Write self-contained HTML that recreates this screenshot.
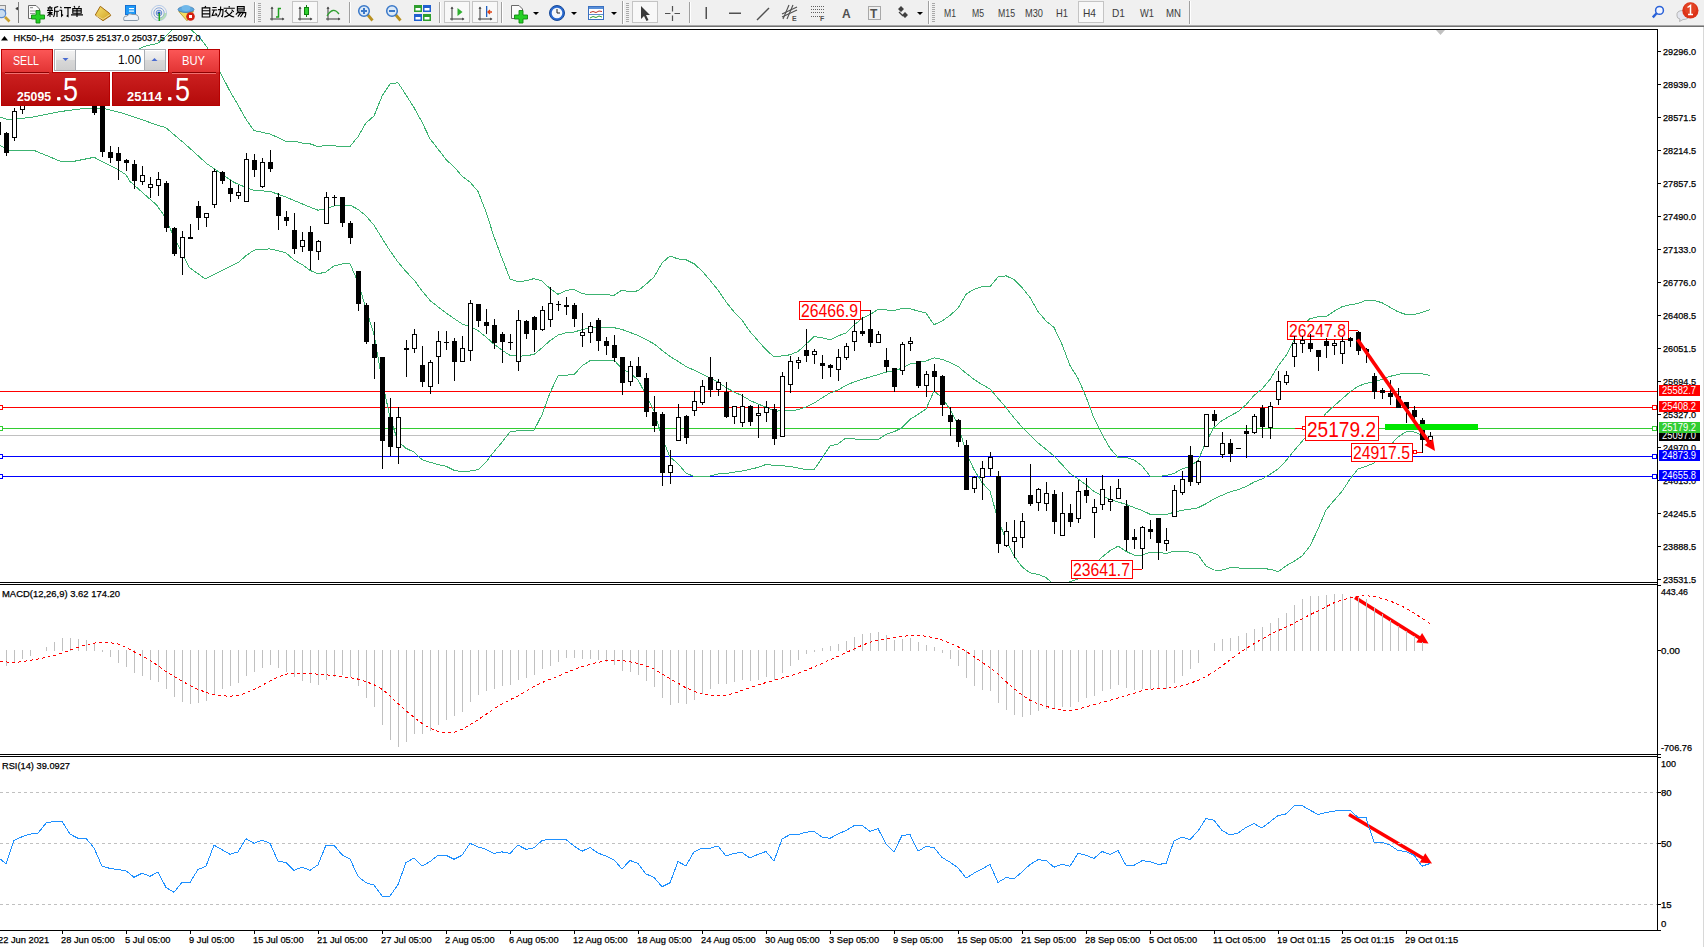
<!DOCTYPE html>
<html><head><meta charset="utf-8"><style>
html,body{margin:0;padding:0;}
body{width:1704px;height:947px;overflow:hidden;position:relative;background:#fff;font-family:"Liberation Sans",sans-serif;}
</style></head><body>
<div style="position:absolute;left:0;top:0;width:1704px;height:25px;background:#f0f0f0"></div>
<svg width="1704" height="25" viewBox="0 0 1704 25" style="position:absolute;left:0;top:0"><rect x="-4.5" y="5.5" width="10" height="8" fill="#e8e8e8" stroke="#909090"/><circle cx="1.5" cy="13.5" r="4.2" fill="#c8dcf0" stroke="#5a8ad0" stroke-width="1.2"/><line x1="5" y1="17" x2="9.5" y2="21.5" stroke="#c8a030" stroke-width="2.6"/><rect x="18" y="2" width="1" height="21" fill="#808080"/><polygon points="17.5,7.5 15.8,8.6 17.5,9.7" fill="none" stroke="#000" stroke-width="0.8"/><path d="M28.5,5.5 H36 L39.5,9 V18.5 H28.5 Z" fill="#fbfbfb" stroke="#6a6a6a"/><g fill="#9a9a9a"><rect x="30" y="7" width="3" height="1.2"/><rect x="30" y="10.5" width="6" height="1"/><rect x="30" y="13" width="5" height="1"/></g><path d="M36,10.5 H40 V15 H44.5 V19 H40 V23 H36 V19 H31.5 V15 H36 Z" fill="#25d025" stroke="#118811" stroke-width="0.9"/><path transform="translate(47,6)" d="M3,0 V1.2 M0.5,1.8 H5.5 M1.5,2.6 L2,3.6 M4.5,2.6 L4,3.6 M0,4.3 H6 M3,4.3 V11 M0.5,6.6 H5.5 M3,7 L0.5,10 M3,7 L5.5,9 M11.2,0.5 L7.6,1.6 M7.6,1.6 V6 Q7.6,9 6.5,11 M7.6,5.2 H12 M10,5.2 V11" fill="none" stroke="#000" stroke-width="1.15"/><path transform="translate(59,6)" d="M1.3,0.8 L2.5,2.2 M0.3,4.2 H2.6 V10 L4,8.6 M5,1.6 H12 M9,1.6 V10.6 L7.6,9.8" fill="none" stroke="#000" stroke-width="1.15"/><path transform="translate(71,6)" d="M3,0 L4,1.6 M8.5,0 L7.5,1.6 M1.8,2.6 H10.2 V7.2 H1.8 Z M1.8,4.9 H10.2 M6,2.6 V11 M0,8.8 H12" fill="none" stroke="#000" stroke-width="1.15"/><defs><linearGradient id="gBook" x1="0" y1="0" x2="1" y2="1"><stop offset="0" stop-color="#f6e070"/><stop offset="1" stop-color="#d0a020"/></linearGradient></defs><path d="M95.3,15 L100.3,6.3 L109.4,13.3 L110.7,15.6 L103,20.7 Z" fill="url(#gBook)" stroke="#a06810" stroke-width="1"/><path d="M96.5,15.8 L103,19.2 L110,14.5" fill="none" stroke="#f4e0a0" stroke-width="0.8"/><rect x="125.5" y="5.5" width="10" height="9" fill="#1e9af8" stroke="#1870d0"/><rect x="129" y="8" width="5" height="1.2" fill="#fff"/><rect x="129" y="10.5" width="5" height="1.2" fill="#fff"/><path d="M124,20.5 Q122.5,16 127,16 Q129,12.5 133,14.5 Q138.5,14 138.5,18 Q139.5,20.5 136,20.5 Z" fill="#eef2f7" stroke="#8898a8"/><g fill="none" stroke-width="1"><circle cx="159" cy="13" r="7.6" stroke="#b8cce8"/><circle cx="159" cy="13" r="5.2" stroke="#8aa8dc"/><circle cx="159" cy="13" r="2.8" stroke="#6088d0"/></g><path d="M159,20.6 A7.6,7.6 0 0 0 166.6,13 L164.2,13 A5.2,5.2 0 0 1 159,18.2 Z" fill="#a8d8a8" opacity="0.8"/><circle cx="159" cy="13" r="1.6" fill="#2050c0"/><path d="M159.3,13 V21" fill="none" stroke="#20a020" stroke-width="1.5"/><path d="M178.8,11.5 L193.5,11.5 L187,20.8 Z" fill="#f4dc60" stroke="#b09020" stroke-width="0.8"/><ellipse cx="186" cy="9.5" rx="8" ry="3" fill="#5aa8e0" stroke="#3a78b0" stroke-width="0.8"/><ellipse cx="186" cy="8" rx="4.5" ry="3" fill="#70b8ea"/><circle cx="190.5" cy="16.5" r="4.3" fill="#d42010"/><rect x="189" y="15" width="3" height="3" fill="#fff"/><path transform="translate(200.0,6)" d="M5.8,0 L4.8,1.6 M2.2,1.8 H9.8 V11 H2.2 Z M2.2,4.7 H9.8 M2.2,7.8 H9.8" fill="none" stroke="#000" stroke-width="1.15"/><path transform="translate(211.6,6)" d="M0.8,1.5 H5 M0.2,4 H5.6 M2.6,4 L0.6,9.5 L5.4,8.8 M4,7 L5.6,9.6 M6.4,3.6 H11.4 Q11.4,9 10.6,10.6 L9.6,10 M9,0.4 V4 Q8.6,8.5 6,11" fill="none" stroke="#000" stroke-width="1.15"/><path transform="translate(223.2,6)" d="M6,0 V1.6 M0.4,2.2 H11.6 M3.6,3.6 L1.6,5.8 M8.4,3.6 L10.6,5.8 M3,5.6 Q6,10 11,11 M9,5.6 Q6,10 1,11" fill="none" stroke="#000" stroke-width="1.15"/><path transform="translate(234.8,6)" d="M2.6,0.6 H9.4 V5 H2.6 Z M2.6,2.8 H9.4 M3.6,5.6 L1,8.6 M3,6.6 H11 Q11,10 10.2,11 L9.4,10.6 M6,6.6 L3,10.6 M8.6,6.6 L5.6,11" fill="none" stroke="#000" stroke-width="1.15"/><rect x="254" y="2" width="1" height="21" fill="#a0a0a0"/><rect x="255" y="2" width="1" height="21" fill="#ffffff"/><rect x="258" y="3" width="3" height="1" fill="#a8a8a8"/><rect x="258" y="5" width="3" height="1" fill="#a8a8a8"/><rect x="258" y="7" width="3" height="1" fill="#a8a8a8"/><rect x="258" y="9" width="3" height="1" fill="#a8a8a8"/><rect x="258" y="11" width="3" height="1" fill="#a8a8a8"/><rect x="258" y="13" width="3" height="1" fill="#a8a8a8"/><rect x="258" y="15" width="3" height="1" fill="#a8a8a8"/><rect x="258" y="17" width="3" height="1" fill="#a8a8a8"/><rect x="258" y="19" width="3" height="1" fill="#a8a8a8"/><rect x="258" y="21" width="3" height="1" fill="#a8a8a8"/><g stroke="#4a4a4a" stroke-width="1.1" fill="none"><path d="M272,20.5 V7"/><path d="M270,19 H284"/></g><polygon points="270.5,9 273.5,9 272,6.5" fill="#505050"/><polygon points="282,17.5 282,20.5 284.5,19" fill="#505050"/><path d="M276,17 H278.5 V8.5 H281" fill="none" stroke="#20a020" stroke-width="1.5"/><rect x="292.5" y="1.5" width="25" height="21" fill="#f8f8f8" stroke="#c4c4c4" stroke-width="1"/><g stroke="#4a4a4a" stroke-width="1.1" fill="none"><path d="M300,20.5 V7"/><path d="M298,19 H312"/></g><polygon points="298.5,9 301.5,9 300,6.5" fill="#505050"/><polygon points="310,17.5 310,20.5 312.5,19" fill="#505050"/><rect x="306" y="5" width="1" height="12" fill="#108010"/><rect x="304.5" y="7.5" width="4" height="7" fill="#30d030" stroke="#108010"/><g stroke="#4a4a4a" stroke-width="1.1" fill="none"><path d="M328,20.5 V7"/><path d="M326,19 H340"/></g><polygon points="326.5,9 329.5,9 328,6.5" fill="#505050"/><polygon points="338,17.5 338,20.5 340.5,19" fill="#505050"/><path d="M327,16 Q333,6 339,14" fill="none" stroke="#30a030" stroke-width="1.3"/><rect x="349" y="2" width="1" height="21" fill="#a0a0a0"/><rect x="350" y="2" width="1" height="21" fill="#ffffff"/><line x1="367.5" y1="14.5" x2="372.5" y2="20.5" stroke="#b89020" stroke-width="2.8"/><circle cx="364" cy="11" r="5.3" fill="#dceaf8" stroke="#3a78c8" stroke-width="1.5"/><rect x="361" y="10" width="6" height="2" fill="#3a78c8"/><rect x="363" y="8" width="2" height="6" fill="#3a78c8"/><line x1="395.5" y1="14.5" x2="400.5" y2="20.5" stroke="#b89020" stroke-width="2.8"/><circle cx="392" cy="11" r="5.3" fill="#dceaf8" stroke="#3a78c8" stroke-width="1.5"/><rect x="389" y="10" width="6" height="2" fill="#3a78c8"/><rect x="414" y="5" width="8" height="7" fill="#2e9e2e"/><rect x="415.5" y="8" width="5" height="2.5" fill="#fff"/><rect x="423" y="5" width="8" height="7" fill="#2060d0"/><rect x="424.5" y="8" width="5" height="2.5" fill="#fff"/><rect x="414" y="14" width="8" height="7" fill="#2060d0"/><rect x="415.5" y="17" width="5" height="2.5" fill="#fff"/><rect x="423" y="14" width="8" height="7" fill="#2e9e2e"/><rect x="424.5" y="17" width="5" height="2.5" fill="#fff"/><rect x="439" y="2" width="1" height="21" fill="#a0a0a0"/><rect x="440" y="2" width="1" height="21" fill="#ffffff"/><rect x="444.5" y="1.5" width="25" height="21" fill="#f8f8f8" stroke="#c4c4c4" stroke-width="1"/><g stroke="#4a4a4a" stroke-width="1.1" fill="none"><path d="M452,20.5 V7"/><path d="M450,19 H464"/></g><polygon points="450.5,9 453.5,9 452,6.5" fill="#505050"/><polygon points="462,17.5 462,20.5 464.5,19" fill="#505050"/><polygon points="457.5,8 457.5,16 462.5,12" fill="#30b030"/><rect x="472.5" y="1.5" width="25" height="21" fill="#f8f8f8" stroke="#c4c4c4" stroke-width="1"/><g stroke="#4a4a4a" stroke-width="1.1" fill="none"><path d="M480,20.5 V7"/><path d="M478,19 H492"/></g><polygon points="478.5,9 481.5,9 480,6.5" fill="#505050"/><polygon points="490,17.5 490,20.5 492.5,19" fill="#505050"/><rect x="486" y="6" width="1.3" height="11" fill="#2060c0"/><path d="M492,12 H488 M490,10 L488,12 L490,14" fill="none" stroke="#e04010" stroke-width="1.3"/><rect x="501" y="2" width="1" height="21" fill="#a0a0a0"/><rect x="502" y="2" width="1" height="21" fill="#ffffff"/><path d="M511.5,5.5 H519 L522.5,9 V18.5 H511.5 Z" fill="#fbfbfb" stroke="#6a6a6a"/><path d="M519,10.5 H523 V15 H527.5 V19 H523 V23 H519 V19 H514.5 V15 H519 Z" fill="#25d025" stroke="#118811" stroke-width="0.9"/><polygon points="533,12 539,12 536,15" fill="#000"/><circle cx="557" cy="13" r="7.5" fill="#2a6ad0" stroke="#184a98"/><circle cx="557" cy="13" r="5.3" fill="#f4f8fc"/><path d="M557,9 V13 H560" fill="none" stroke="#202020" stroke-width="1"/><polygon points="571,12 577,12 574,15" fill="#000"/><rect x="588.5" y="6.5" width="15" height="13" fill="#fff" stroke="#3a70c0"/><rect x="589" y="7" width="14" height="2" fill="#5a90d8"/><path d="M590,12.5 L593,11.5 L596,12.5 L599,11 L602,11.5" fill="none" stroke="#c03020" stroke-width="1"/><rect x="589" y="14" width="14" height="0.8" fill="#3a70c0"/><path d="M590,18 L593,16.5 L596,17.5 L599,16 L602,17" fill="none" stroke="#30a030" stroke-width="1"/><polygon points="611,12 617,12 614,15" fill="#000"/><rect x="622" y="1" width="1" height="23" fill="#a0a0a0"/><rect x="623" y="1" width="1" height="23" fill="#fff"/><rect x="626" y="3" width="3" height="1" fill="#a8a8a8"/><rect x="626" y="5" width="3" height="1" fill="#a8a8a8"/><rect x="626" y="7" width="3" height="1" fill="#a8a8a8"/><rect x="626" y="9" width="3" height="1" fill="#a8a8a8"/><rect x="626" y="11" width="3" height="1" fill="#a8a8a8"/><rect x="626" y="13" width="3" height="1" fill="#a8a8a8"/><rect x="626" y="15" width="3" height="1" fill="#a8a8a8"/><rect x="626" y="17" width="3" height="1" fill="#a8a8a8"/><rect x="626" y="19" width="3" height="1" fill="#a8a8a8"/><rect x="626" y="21" width="3" height="1" fill="#a8a8a8"/><rect x="632.5" y="1.5" width="25" height="21" fill="#f8f8f8" stroke="#c4c4c4" stroke-width="1"/><polygon points="641,6 641,19 644,16 646.5,21 648.5,20 646,15 650,15" fill="#3a3a3a"/><path d="M665,13.5 H670.5 M674.5,13.5 H680 M672.5,6 V11.5 M672.5,15.5 V21" stroke="#505050" stroke-width="1.2"/><rect x="689" y="2" width="1" height="21" fill="#a0a0a0"/><rect x="690" y="2" width="1" height="21" fill="#ffffff"/><rect x="705.5" y="7" width="1.5" height="12" fill="#505050"/><rect x="729" y="12.5" width="12" height="1.5" fill="#505050"/><line x1="757" y1="20" x2="769" y2="8" stroke="#505050" stroke-width="1.4"/><g stroke="#505050" stroke-width="1.1"><line x1="782" y1="14" x2="797" y2="7"/><line x1="782" y1="17" x2="797" y2="10"/><line x1="783" y1="19" x2="789" y2="5"/><line x1="787" y1="19" x2="793" y2="5"/></g><text x="792" y="21" font-family="Liberation Sans, sans-serif" font-size="7" font-weight="bold" fill="#505050">E</text><g stroke="#606060" stroke-width="1" stroke-dasharray="1 1"><line x1="811" y1="6.5" x2="824" y2="6.5"/><line x1="811" y1="9.5" x2="824" y2="9.5"/><line x1="811" y1="12.5" x2="824" y2="12.5"/><line x1="811" y1="16.5" x2="821" y2="16.5"/></g><text x="820" y="21" font-family="Liberation Sans, sans-serif" font-size="7" font-weight="bold" fill="#505050">F</text><text x="842" y="18" font-family="Liberation Sans, sans-serif" font-size="12" font-weight="bold" fill="#505050">A</text><rect x="868.5" y="6.5" width="12" height="13" fill="none" stroke="#606060" stroke-dasharray="1 1"/><text x="870" y="18" font-family="Liberation Sans, sans-serif" font-size="12" font-weight="bold" fill="#505050">T</text><path d="M898,9 L901,6 L904,9 L901,12 Z M902,15 L905,12 L908,15 L905,18 Z" fill="#404040"/><path d="M899,12 L903,16" stroke="#404040" stroke-width="1.3"/><polygon points="917,12 923,12 920,15" fill="#000"/><rect x="928" y="1" width="1" height="23" fill="#a0a0a0"/><rect x="929" y="1" width="1" height="23" fill="#fff"/><rect x="932" y="3" width="3" height="1" fill="#a8a8a8"/><rect x="932" y="5" width="3" height="1" fill="#a8a8a8"/><rect x="932" y="7" width="3" height="1" fill="#a8a8a8"/><rect x="932" y="9" width="3" height="1" fill="#a8a8a8"/><rect x="932" y="11" width="3" height="1" fill="#a8a8a8"/><rect x="932" y="13" width="3" height="1" fill="#a8a8a8"/><rect x="932" y="15" width="3" height="1" fill="#a8a8a8"/><rect x="932" y="17" width="3" height="1" fill="#a8a8a8"/><rect x="932" y="19" width="3" height="1" fill="#a8a8a8"/><rect x="932" y="21" width="3" height="1" fill="#a8a8a8"/><rect x="1078.5" y="1.5" width="25" height="21" fill="#f8f8f8" stroke="#c4c4c4" stroke-width="1"/><text x="944" y="17" font-family="Liberation Sans, sans-serif" font-size="10.5" fill="#3c3c3c" textLength="12" lengthAdjust="spacingAndGlyphs">M1</text><text x="972" y="17" font-family="Liberation Sans, sans-serif" font-size="10.5" fill="#3c3c3c" textLength="12" lengthAdjust="spacingAndGlyphs">M5</text><text x="998" y="17" font-family="Liberation Sans, sans-serif" font-size="10.5" fill="#3c3c3c" textLength="17" lengthAdjust="spacingAndGlyphs">M15</text><text x="1025" y="17" font-family="Liberation Sans, sans-serif" font-size="10.5" fill="#3c3c3c" textLength="18" lengthAdjust="spacingAndGlyphs">M30</text><text x="1056" y="17" font-family="Liberation Sans, sans-serif" font-size="10.5" fill="#3c3c3c" textLength="12" lengthAdjust="spacingAndGlyphs">H1</text><text x="1083" y="17" font-family="Liberation Sans, sans-serif" font-size="10.5" fill="#3c3c3c" textLength="13" lengthAdjust="spacingAndGlyphs">H4</text><text x="1112" y="17" font-family="Liberation Sans, sans-serif" font-size="10.5" fill="#3c3c3c" textLength="13" lengthAdjust="spacingAndGlyphs">D1</text><text x="1140" y="17" font-family="Liberation Sans, sans-serif" font-size="10.5" fill="#3c3c3c" textLength="14" lengthAdjust="spacingAndGlyphs">W1</text><text x="1166" y="17" font-family="Liberation Sans, sans-serif" font-size="10.5" fill="#3c3c3c" textLength="15" lengthAdjust="spacingAndGlyphs">MN</text><rect x="1189" y="1" width="1" height="23" fill="#a0a0a0"/><rect x="1190" y="1" width="1" height="23" fill="#fff"/><circle cx="1659.5" cy="10.4" r="3.9" fill="#f4f6ff" stroke="#2a62d8" stroke-width="1.5"/><line x1="1656.6" y1="13.3" x2="1652.8" y2="17.4" stroke="#2a62d8" stroke-width="2.4"/><path d="M1677,16 Q1676,10.5 1683,10.5 Q1689,10.5 1689,15.5 Q1689,19.5 1683,19.5 L1679.5,21.5 L1680,19 Q1677,18.5 1677,16 Z" fill="#e4e6ee" stroke="#a8a8a8" stroke-width="0.8"/><circle cx="1690.4" cy="10.4" r="8.1" fill="#dc3218"/><circle cx="1690.4" cy="8.5" r="6" fill="#e8522e" opacity="0.5"/><path d="M1687.5,7.5 L1690.5,5.5 V14.5 M1688,14.5 H1693" fill="none" stroke="#fff" stroke-width="1.5"/></svg>
<div style="position:absolute;left:0;top:25px;width:1704px;height:1px;background:#a8a8a8"></div>
<div style="position:absolute;left:0;top:26px;width:1704px;height:1px;background:#707070"></div>
<div style="position:absolute;left:1703px;top:27px;width:1px;height:920px;background:#d8d8d8"></div>
<svg width="1704" height="947" viewBox="0 0 1704 947" style="position:absolute;left:0;top:0"><defs><clipPath id="cm"><rect x="0" y="30" width="1657" height="552"/></clipPath><clipPath id="cmacd"><rect x="0" y="585" width="1657" height="169"/></clipPath><clipPath id="crsi"><rect x="0" y="757" width="1657" height="173"/></clipPath></defs><rect x="0" y="391" width="1657" height="1" fill="#ff0000"/><rect x="0" y="407" width="1657" height="1" fill="#ff0000"/><rect x="0" y="428" width="1657" height="1" fill="#32cd32"/><rect x="0" y="435" width="1657" height="1" fill="#c0c0c0"/><rect x="0" y="456" width="1657" height="1" fill="#0000ff"/><rect x="0" y="476" width="1657" height="1" fill="#0000ff"/><g clip-path="url(#cm)" fill="none" stroke="#3cb371" stroke-width="1" shape-rendering="crispEdges"><polyline points="120.0,60.0 143.7,46.4 157.7,43.5 166.0,36.0 174.0,28.0 189.5,28.0 200.0,38.0 206.5,46.4 214.0,60.0 222.0,75.8 230.0,91.3 238.0,105.0 246.0,119.3 254.0,130.6 262.0,132.3 270.0,134.0 278.0,137.6 286.0,141.3 294.0,141.0 302.0,143.0 310.0,143.8 318.0,146.6 326.0,145.3 334.0,145.9 342.0,146.3 350.0,146.4 358.0,136.7 366.0,122.9 374.0,116.0 382.0,96.2 390.0,84.0 398.0,82.7 406.0,94.9 414.0,107.6 422.0,122.1 430.0,138.8 438.0,149.0 446.0,159.6 454.0,166.8 462.0,176.0 470.0,182.1 478.0,191.4 486.0,211.9 494.0,236.8 502.0,258.2 510.0,278.9 518.0,281.6 526.0,280.8 534.0,278.6 542.0,281.0 550.0,288.6 558.0,294.3 566.0,290.5 574.0,289.3 582.0,293.4 590.0,294.8 598.0,294.8 606.0,294.7 614.0,295.3 622.0,289.9 630.0,291.9 638.0,290.8 646.0,284.3 654.0,276.9 662.0,263.0 670.0,255.9 678.0,258.9 686.0,259.7 694.0,263.7 702.0,270.9 710.0,280.3 718.0,290.0 726.0,301.8 734.0,311.9 742.0,320.2 750.0,331.6 758.0,340.7 766.0,349.7 774.0,357.0 782.0,355.9 790.0,354.8 798.0,351.5 806.0,344.2 814.0,336.7 822.0,337.6 830.0,340.0 838.0,336.0 846.0,332.9 854.0,324.9 862.0,318.7 870.0,314.5 878.0,309.5 886.0,309.9 894.0,310.5 902.0,308.5 910.0,308.7 918.0,311.0 926.0,313.1 934.0,324.7 942.0,321.1 950.0,315.4 958.0,308.2 966.0,294.3 974.0,289.2 982.0,286.7 990.0,286.6 998.0,277.0 1006.0,275.8 1014.0,279.6 1022.0,287.6 1030.0,297.5 1038.0,311.5 1046.0,321.0 1054.0,327.4 1062.0,344.4 1070.0,365.5 1078.0,378.4 1086.0,396.7 1094.0,418.3 1102.0,434.2 1110.0,448.3 1118.0,457.6 1126.0,457.5 1134.0,460.0 1142.0,465.8 1150.0,476.2 1158.0,476.3 1166.0,475.7 1174.0,473.4 1182.0,469.0 1190.0,466.2 1198.0,460.7 1206.0,441.7 1214.0,427.6 1222.0,420.5 1230.0,416.0 1238.0,411.6 1246.0,404.8 1254.0,395.4 1262.0,389.1 1270.0,379.5 1278.0,366.2 1286.0,355.6 1294.0,340.4 1302.0,326.8 1310.0,318.7 1318.0,316.8 1326.0,316.6 1334.0,311.3 1342.0,306.7 1350.0,304.7 1358.0,303.6 1366.0,300.2 1374.0,300.5 1382.0,302.7 1390.0,307.3 1398.0,311.8 1406.0,314.5 1414.0,314.4 1422.0,312.4 1430.0,309.6"/><polyline points="0.0,117.2 8.1,119.6 29.7,117.6 60.7,111.5 86.4,108.2 105.3,108.8 121.5,112.9 140.0,118.9 155.2,124.4 165.9,127.7 180.3,140.0 184.3,143.3 206.9,163.7 218.7,171.8 233.5,182.1 246.0,187.5 254.0,190.4 262.0,190.9 270.0,191.4 278.0,194.2 286.0,197.1 294.0,200.5 302.0,203.8 310.0,207.1 318.0,210.2 326.0,208.7 334.0,205.9 342.0,205.2 350.0,205.1 358.0,209.4 366.0,215.8 374.0,225.2 382.0,238.2 390.0,250.8 398.0,262.1 406.0,271.6 414.0,279.9 422.0,290.8 430.0,300.5 438.0,306.8 446.0,312.9 454.0,318.5 462.0,323.9 470.0,326.6 478.0,330.5 486.0,337.0 494.0,344.2 502.0,350.2 510.0,355.4 518.0,356.2 526.0,355.8 534.0,354.4 542.0,347.9 550.0,340.7 558.0,335.1 566.0,332.8 574.0,332.1 582.0,329.6 590.0,327.8 598.0,327.7 606.0,327.9 614.0,327.7 622.0,329.4 630.0,332.5 638.0,335.3 646.0,339.6 654.0,343.8 662.0,350.3 670.0,356.5 678.0,361.3 686.0,366.5 694.0,370.1 702.0,373.9 710.0,378.2 718.0,382.0 726.0,387.6 734.0,392.0 742.0,395.6 750.0,400.4 758.0,404.1 766.0,407.1 774.0,411.2 782.0,410.8 790.0,410.6 798.0,409.8 806.0,406.9 814.0,403.2 822.0,397.9 830.0,393.0 838.0,390.0 846.0,385.4 854.0,381.9 862.0,379.3 870.0,377.0 878.0,374.6 886.0,372.1 894.0,371.1 902.0,368.1 910.0,364.0 918.0,362.7 926.0,361.0 934.0,357.9 942.0,359.3 950.0,362.4 958.0,366.4 966.0,373.1 974.0,379.4 982.0,384.5 990.0,389.0 998.0,398.3 1006.0,407.6 1014.0,417.8 1022.0,427.1 1030.0,435.2 1038.0,442.9 1046.0,449.3 1054.0,456.0 1062.0,464.5 1070.0,473.5 1078.0,478.8 1086.0,484.9 1094.0,491.4 1102.0,495.7 1110.0,499.5 1118.0,501.9 1126.0,504.4 1134.0,507.5 1142.0,510.5 1150.0,514.2 1158.0,514.2 1166.0,514.6 1174.0,512.3 1182.0,510.2 1190.0,509.2 1198.0,507.8 1206.0,503.8 1214.0,498.8 1222.0,495.3 1230.0,491.9 1238.0,489.7 1246.0,486.6 1254.0,482.1 1262.0,479.0 1270.0,474.3 1278.0,469.0 1286.0,460.7 1294.0,450.8 1302.0,441.4 1310.0,432.3 1318.0,423.0 1326.0,413.3 1334.0,405.9 1342.0,399.0 1350.0,391.9 1358.0,386.4 1366.0,383.3 1374.0,381.8 1382.0,379.3 1390.0,376.4 1398.0,374.4 1406.0,373.1 1414.0,373.1 1422.0,373.8 1430.0,375.3"/><polyline points="0.0,145.4 8.9,150.4 34.0,150.4 61.0,161.5 73.0,161.5 94.0,157.3 117.5,169.3 126.0,174.8 130.0,181.4 140.0,190.3 156.6,205.0 164.0,215.4 172.9,234.6 189.0,267.2 205.4,279.0 238.0,262.7 246.0,255.7 254.0,250.1 262.0,249.4 270.0,248.9 278.0,250.8 286.0,252.9 294.0,260.0 302.0,264.5 310.0,270.4 318.0,273.8 326.0,272.0 334.0,265.9 342.0,264.0 350.0,263.7 358.0,282.1 366.0,308.7 374.0,334.4 382.0,380.1 390.0,417.6 398.0,441.4 406.0,448.3 414.0,452.1 422.0,459.6 430.0,462.2 438.0,464.5 446.0,466.2 454.0,470.3 462.0,471.9 470.0,471.0 478.0,469.7 486.0,462.1 494.0,451.7 502.0,442.2 510.0,431.9 518.0,430.8 526.0,430.8 534.0,430.2 542.0,414.8 550.0,392.8 558.0,375.9 566.0,375.1 574.0,374.8 582.0,365.8 590.0,360.7 598.0,360.6 606.0,361.0 614.0,360.0 622.0,368.8 630.0,373.2 638.0,379.8 646.0,394.9 654.0,410.6 662.0,437.6 670.0,457.0 678.0,463.7 686.0,473.2 694.0,476.4 702.0,476.8 710.0,476.0 718.0,474.0 726.0,473.5 734.0,472.1 742.0,471.1 750.0,469.3 758.0,467.4 766.0,464.5 774.0,465.3 782.0,465.8 790.0,466.4 798.0,468.0 806.0,469.7 814.0,469.8 822.0,458.2 830.0,446.0 838.0,444.0 846.0,438.0 854.0,438.9 862.0,440.0 870.0,439.5 878.0,439.7 886.0,434.3 894.0,431.8 902.0,427.7 910.0,419.3 918.0,414.4 926.0,409.0 934.0,391.1 942.0,397.6 950.0,409.3 958.0,424.7 966.0,452.0 974.0,469.6 982.0,482.4 990.0,491.3 998.0,519.6 1006.0,539.3 1014.0,556.0 1022.0,566.7 1030.0,572.9 1038.0,574.3 1046.0,577.5 1054.0,584.6 1062.0,584.5 1070.0,581.5 1078.0,579.2 1086.0,573.0 1094.0,564.6 1102.0,557.1 1110.0,550.7 1118.0,546.1 1126.0,551.3 1134.0,555.1 1142.0,555.1 1150.0,552.3 1158.0,552.1 1166.0,553.5 1174.0,551.2 1182.0,551.5 1190.0,552.1 1198.0,554.8 1206.0,565.9 1214.0,570.0 1222.0,570.1 1230.0,567.7 1238.0,567.9 1246.0,568.5 1254.0,568.8 1262.0,568.8 1270.0,569.1 1278.0,571.8 1286.0,565.8 1294.0,561.3 1302.0,556.1 1310.0,545.9 1318.0,529.2 1326.0,509.9 1334.0,500.5 1342.0,491.3 1350.0,479.1 1358.0,469.1 1366.0,466.3 1374.0,463.1 1382.0,455.8 1390.0,445.6 1398.0,437.0 1406.0,431.8 1414.0,431.9 1422.0,435.2 1430.0,441.0"/></g><rect x="-1.5" y="405.5" width="4" height="4" fill="#fff" stroke="#ff0000" stroke-width="1" shape-rendering="crispEdges"/><rect x="1652.5" y="405.5" width="4" height="4" fill="#fff" stroke="#ff0000" stroke-width="1" shape-rendering="crispEdges"/><rect x="-1.5" y="426.5" width="4" height="4" fill="#fff" stroke="#32cd32" stroke-width="1" shape-rendering="crispEdges"/><rect x="1652.5" y="426.5" width="4" height="4" fill="#fff" stroke="#32cd32" stroke-width="1" shape-rendering="crispEdges"/><rect x="-1.5" y="454.5" width="4" height="4" fill="#fff" stroke="#0000ff" stroke-width="1" shape-rendering="crispEdges"/><rect x="1652.5" y="454.5" width="4" height="4" fill="#fff" stroke="#0000ff" stroke-width="1" shape-rendering="crispEdges"/><rect x="-1.5" y="474.5" width="4" height="4" fill="#fff" stroke="#0000ff" stroke-width="1" shape-rendering="crispEdges"/><rect x="1652.5" y="474.5" width="4" height="4" fill="#fff" stroke="#0000ff" stroke-width="1" shape-rendering="crispEdges"/><rect x="861" y="310" width="9" height="1" fill="#ff0000"/><rect x="799.5" y="301.5" width="61" height="18" fill="#fff" stroke="#ff0000" stroke-width="1" shape-rendering="crispEdges"/><text x="801" y="317" font-family="Liberation Sans, sans-serif" font-size="17.5" fill="#ff0000" textLength="57" lengthAdjust="spacingAndGlyphs">26466.9</text><rect x="1348" y="330" width="10" height="1" fill="#ff0000"/><rect x="1287.5" y="321.5" width="61" height="18" fill="#fff" stroke="#ff0000" stroke-width="1" shape-rendering="crispEdges"/><text x="1289" y="337" font-family="Liberation Sans, sans-serif" font-size="17.5" fill="#ff0000" textLength="57" lengthAdjust="spacingAndGlyphs">26247.8</text><rect x="1133" y="569" width="9" height="1" fill="#ff0000"/><rect x="1071.5" y="560.5" width="61" height="18" fill="#fff" stroke="#ff0000" stroke-width="1" shape-rendering="crispEdges"/><text x="1073" y="576" font-family="Liberation Sans, sans-serif" font-size="17.5" fill="#ff0000" textLength="57" lengthAdjust="spacingAndGlyphs">23641.7</text><rect x="1295" y="428" width="8" height="1" fill="#ff0000"/><rect x="1302.5" y="426.5" width="3" height="3" fill="#fff" stroke="#ff0000" shape-rendering="crispEdges"/><rect x="1305.5" y="416.5" width="73" height="24" fill="#fff" stroke="#ff0000" stroke-width="1" shape-rendering="crispEdges"/><text x="1307" y="437" font-family="Liberation Sans, sans-serif" font-size="22" fill="#ff0000" textLength="69" lengthAdjust="spacingAndGlyphs">25179.2</text><rect x="1416" y="452" width="6" height="1" fill="#ff0000"/><rect x="1413.5" y="450.5" width="3" height="3" fill="#fff" stroke="#ff0000" shape-rendering="crispEdges"/><rect x="1351.5" y="443.5" width="61" height="18" fill="#fff" stroke="#ff0000" stroke-width="1" shape-rendering="crispEdges"/><text x="1353" y="459" font-family="Liberation Sans, sans-serif" font-size="17.5" fill="#ff0000" textLength="57" lengthAdjust="spacingAndGlyphs">24917.5</text><g clip-path="url(#cm)" shape-rendering="crispEdges"><rect x="-2" y="118" width="1" height="19" fill="#000"/><rect x="-4" y="122" width="5" height="13" fill="#000"/><rect x="6" y="132" width="1" height="24" fill="#000"/><rect x="4" y="133" width="5" height="20" fill="#000"/><rect x="14" y="108" width="1" height="33" fill="#000"/><rect x="12.5" y="111.5" width="4" height="26" fill="#fff" stroke="#000" stroke-width="1"/><rect x="22" y="100" width="1" height="14" fill="#000"/><rect x="20.5" y="102.5" width="4" height="7" fill="#fff" stroke="#000" stroke-width="1"/><rect x="94" y="100" width="1" height="15" fill="#000"/><rect x="92" y="100" width="5" height="13" fill="#000"/><rect x="102" y="100" width="1" height="57" fill="#000"/><rect x="100" y="100" width="5" height="52" fill="#000"/><rect x="110" y="146" width="1" height="17" fill="#000"/><rect x="108" y="152" width="5" height="6" fill="#000"/><rect x="118" y="147" width="1" height="33" fill="#000"/><rect x="116" y="153" width="5" height="8" fill="#000"/><rect x="126" y="159" width="1" height="12" fill="#000"/><rect x="124" y="160" width="5" height="3" fill="#000"/><rect x="134" y="160" width="1" height="29" fill="#000"/><rect x="132" y="164" width="5" height="17" fill="#000"/><rect x="142" y="166" width="1" height="19" fill="#000"/><rect x="140.5" y="175.5" width="4" height="6" fill="#fff" stroke="#000" stroke-width="1"/><rect x="150" y="177" width="1" height="21" fill="#000"/><rect x="148.5" y="184.5" width="4" height="3" fill="#fff" stroke="#000" stroke-width="1"/><rect x="158" y="172" width="1" height="24" fill="#000"/><rect x="156.5" y="179.5" width="4" height="6" fill="#fff" stroke="#000" stroke-width="1"/><rect x="166" y="181" width="1" height="51" fill="#000"/><rect x="164" y="183" width="5" height="45" fill="#000"/><rect x="174" y="227" width="1" height="29" fill="#000"/><rect x="172" y="228" width="5" height="26" fill="#000"/><rect x="182" y="231" width="1" height="44" fill="#000"/><rect x="180.5" y="237.5" width="4" height="20" fill="#fff" stroke="#000" stroke-width="1"/><rect x="190" y="224" width="1" height="15" fill="#000"/><rect x="188" y="237" width="5" height="2" fill="#000"/><rect x="198" y="201" width="1" height="29" fill="#000"/><rect x="196" y="206" width="5" height="12" fill="#000"/><rect x="206" y="213" width="1" height="14" fill="#000"/><rect x="204.5" y="213.5" width="4" height="4" fill="#fff" stroke="#000" stroke-width="1"/><rect x="214" y="169" width="1" height="39" fill="#000"/><rect x="212.5" y="171.5" width="4" height="33" fill="#fff" stroke="#000" stroke-width="1"/><rect x="222" y="171" width="1" height="13" fill="#000"/><rect x="220" y="172" width="5" height="9" fill="#000"/><rect x="230" y="180" width="1" height="22" fill="#000"/><rect x="228" y="188" width="5" height="6" fill="#000"/><rect x="238" y="185" width="1" height="14" fill="#000"/><rect x="236.5" y="192.5" width="4" height="3" fill="#fff" stroke="#000" stroke-width="1"/><rect x="246" y="153" width="1" height="49" fill="#000"/><rect x="244.5" y="159.5" width="4" height="42" fill="#fff" stroke="#000" stroke-width="1"/><rect x="254" y="154" width="1" height="23" fill="#000"/><rect x="252" y="160" width="5" height="10" fill="#000"/><rect x="262" y="158" width="1" height="30" fill="#000"/><rect x="260.5" y="162.5" width="4" height="24" fill="#fff" stroke="#000" stroke-width="1"/><rect x="270" y="150" width="1" height="22" fill="#000"/><rect x="268" y="162" width="5" height="7" fill="#000"/><rect x="278" y="193" width="1" height="37" fill="#000"/><rect x="276" y="197" width="5" height="19" fill="#000"/><rect x="286" y="211" width="1" height="15" fill="#000"/><rect x="284" y="217" width="5" height="4" fill="#000"/><rect x="294" y="213" width="1" height="41" fill="#000"/><rect x="292" y="230" width="5" height="19" fill="#000"/><rect x="302" y="232" width="1" height="20" fill="#000"/><rect x="300.5" y="240.5" width="4" height="6" fill="#fff" stroke="#000" stroke-width="1"/><rect x="310" y="226" width="1" height="44" fill="#000"/><rect x="308" y="232" width="5" height="19" fill="#000"/><rect x="318" y="240" width="1" height="20" fill="#000"/><rect x="316.5" y="241.5" width="4" height="10" fill="#fff" stroke="#000" stroke-width="1"/><rect x="326" y="192" width="1" height="32" fill="#000"/><rect x="324.5" y="197.5" width="4" height="26" fill="#fff" stroke="#000" stroke-width="1"/><rect x="334" y="195" width="1" height="11" fill="#000"/><rect x="332" y="197" width="5" height="1" fill="#000"/><rect x="342" y="197" width="1" height="30" fill="#000"/><rect x="340" y="197" width="5" height="26" fill="#000"/><rect x="350" y="221" width="1" height="23" fill="#000"/><rect x="348" y="223" width="5" height="15" fill="#000"/><rect x="358" y="271" width="1" height="40" fill="#000"/><rect x="356" y="271" width="5" height="33" fill="#000"/><rect x="366" y="303" width="1" height="41" fill="#000"/><rect x="364" y="305" width="5" height="37" fill="#000"/><rect x="374" y="322" width="1" height="57" fill="#000"/><rect x="372" y="344" width="5" height="14" fill="#000"/><rect x="382" y="357" width="1" height="112" fill="#000"/><rect x="380" y="357" width="5" height="84" fill="#000"/><rect x="390" y="398" width="1" height="58" fill="#000"/><rect x="388" y="417" width="5" height="30" fill="#000"/><rect x="398" y="407" width="1" height="57" fill="#000"/><rect x="396.5" y="417.5" width="4" height="30" fill="#fff" stroke="#000" stroke-width="1"/><rect x="406" y="340" width="1" height="37" fill="#000"/><rect x="404" y="348" width="5" height="2" fill="#000"/><rect x="414" y="329" width="1" height="24" fill="#000"/><rect x="412.5" y="334.5" width="4" height="14" fill="#fff" stroke="#000" stroke-width="1"/><rect x="422" y="346" width="1" height="41" fill="#000"/><rect x="420" y="365" width="5" height="17" fill="#000"/><rect x="430" y="360" width="1" height="34" fill="#000"/><rect x="428.5" y="362.5" width="4" height="24" fill="#fff" stroke="#000" stroke-width="1"/><rect x="438" y="331" width="1" height="53" fill="#000"/><rect x="436.5" y="341.5" width="4" height="15" fill="#fff" stroke="#000" stroke-width="1"/><rect x="446" y="331" width="1" height="19" fill="#000"/><rect x="444" y="342" width="5" height="1" fill="#000"/><rect x="454" y="338" width="1" height="43" fill="#000"/><rect x="452" y="341" width="5" height="21" fill="#000"/><rect x="462" y="336" width="1" height="26" fill="#000"/><rect x="460.5" y="348.5" width="4" height="13" fill="#fff" stroke="#000" stroke-width="1"/><rect x="470" y="300" width="1" height="61" fill="#000"/><rect x="468.5" y="303.5" width="4" height="47" fill="#fff" stroke="#000" stroke-width="1"/><rect x="478" y="304" width="1" height="23" fill="#000"/><rect x="476" y="304" width="5" height="17" fill="#000"/><rect x="486" y="309" width="1" height="25" fill="#000"/><rect x="484" y="322" width="5" height="4" fill="#000"/><rect x="494" y="319" width="1" height="30" fill="#000"/><rect x="492" y="325" width="5" height="18" fill="#000"/><rect x="502" y="332" width="1" height="31" fill="#000"/><rect x="500" y="334" width="5" height="8" fill="#000"/><rect x="510" y="334" width="1" height="16" fill="#000"/><rect x="508" y="342" width="5" height="1" fill="#000"/><rect x="518" y="310" width="1" height="61" fill="#000"/><rect x="516.5" y="320.5" width="4" height="41" fill="#fff" stroke="#000" stroke-width="1"/><rect x="526" y="320" width="1" height="19" fill="#000"/><rect x="524" y="321" width="5" height="13" fill="#000"/><rect x="534" y="316" width="1" height="36" fill="#000"/><rect x="532" y="317" width="5" height="13" fill="#000"/><rect x="542" y="306" width="1" height="25" fill="#000"/><rect x="540.5" y="310.5" width="4" height="19" fill="#fff" stroke="#000" stroke-width="1"/><rect x="550" y="287" width="1" height="40" fill="#000"/><rect x="548.5" y="303.5" width="4" height="16" fill="#fff" stroke="#000" stroke-width="1"/><rect x="558" y="301" width="1" height="10" fill="#000"/><rect x="556" y="304" width="5" height="1" fill="#000"/><rect x="566" y="297" width="1" height="18" fill="#000"/><rect x="564.5" y="305.5" width="4" height="1" fill="#fff" stroke="#000" stroke-width="1"/><rect x="574" y="303" width="1" height="24" fill="#000"/><rect x="572" y="305" width="5" height="14" fill="#000"/><rect x="582" y="313" width="1" height="34" fill="#000"/><rect x="580.5" y="332.5" width="4" height="3" fill="#fff" stroke="#000" stroke-width="1"/><rect x="590" y="322" width="1" height="21" fill="#000"/><rect x="588.5" y="326.5" width="4" height="6" fill="#fff" stroke="#000" stroke-width="1"/><rect x="598" y="318" width="1" height="33" fill="#000"/><rect x="596" y="320" width="5" height="21" fill="#000"/><rect x="606" y="337" width="1" height="18" fill="#000"/><rect x="604" y="341" width="5" height="5" fill="#000"/><rect x="614" y="335" width="1" height="27" fill="#000"/><rect x="612" y="345" width="5" height="13" fill="#000"/><rect x="622" y="357" width="1" height="38" fill="#000"/><rect x="620" y="357" width="5" height="26" fill="#000"/><rect x="630" y="361" width="1" height="25" fill="#000"/><rect x="628.5" y="366.5" width="4" height="15" fill="#fff" stroke="#000" stroke-width="1"/><rect x="638" y="357" width="1" height="20" fill="#000"/><rect x="636" y="366" width="5" height="11" fill="#000"/><rect x="646" y="373" width="1" height="44" fill="#000"/><rect x="644" y="378" width="5" height="34" fill="#000"/><rect x="654" y="396" width="1" height="36" fill="#000"/><rect x="652" y="412" width="5" height="14" fill="#000"/><rect x="662" y="412" width="1" height="74" fill="#000"/><rect x="660" y="414" width="5" height="59" fill="#000"/><rect x="670" y="450" width="1" height="34" fill="#000"/><rect x="668.5" y="465.5" width="4" height="7" fill="#fff" stroke="#000" stroke-width="1"/><rect x="678" y="404" width="1" height="37" fill="#000"/><rect x="676.5" y="417.5" width="4" height="23" fill="#fff" stroke="#000" stroke-width="1"/><rect x="686" y="415" width="1" height="29" fill="#000"/><rect x="684" y="416" width="5" height="22" fill="#000"/><rect x="694" y="391" width="1" height="25" fill="#000"/><rect x="692.5" y="401.5" width="4" height="9" fill="#fff" stroke="#000" stroke-width="1"/><rect x="702" y="380" width="1" height="25" fill="#000"/><rect x="700.5" y="386.5" width="4" height="16" fill="#fff" stroke="#000" stroke-width="1"/><rect x="710" y="357" width="1" height="40" fill="#000"/><rect x="708" y="377" width="5" height="13" fill="#000"/><rect x="718" y="379" width="1" height="17" fill="#000"/><rect x="716.5" y="382.5" width="4" height="7" fill="#fff" stroke="#000" stroke-width="1"/><rect x="726" y="382" width="1" height="36" fill="#000"/><rect x="724" y="392" width="5" height="25" fill="#000"/><rect x="734" y="406" width="1" height="18" fill="#000"/><rect x="732.5" y="406.5" width="4" height="10" fill="#fff" stroke="#000" stroke-width="1"/><rect x="742" y="394" width="1" height="33" fill="#000"/><rect x="740.5" y="406.5" width="4" height="16" fill="#fff" stroke="#000" stroke-width="1"/><rect x="750" y="405" width="1" height="21" fill="#000"/><rect x="748" y="406" width="5" height="16" fill="#000"/><rect x="758" y="405" width="1" height="33" fill="#000"/><rect x="756.5" y="413.5" width="4" height="2" fill="#fff" stroke="#000" stroke-width="1"/><rect x="766" y="401" width="1" height="21" fill="#000"/><rect x="764.5" y="407.5" width="4" height="5" fill="#fff" stroke="#000" stroke-width="1"/><rect x="774" y="404" width="1" height="41" fill="#000"/><rect x="772" y="409" width="5" height="30" fill="#000"/><rect x="782" y="372" width="1" height="65" fill="#000"/><rect x="780.5" y="376.5" width="4" height="60" fill="#fff" stroke="#000" stroke-width="1"/><rect x="790" y="356" width="1" height="37" fill="#000"/><rect x="788.5" y="361.5" width="4" height="23" fill="#fff" stroke="#000" stroke-width="1"/><rect x="798" y="357" width="1" height="12" fill="#000"/><rect x="796.5" y="360.5" width="4" height="2" fill="#fff" stroke="#000" stroke-width="1"/><rect x="806" y="329" width="1" height="33" fill="#000"/><rect x="804" y="350" width="5" height="6" fill="#000"/><rect x="814" y="349" width="1" height="15" fill="#000"/><rect x="812.5" y="351.5" width="4" height="3" fill="#fff" stroke="#000" stroke-width="1"/><rect x="822" y="355" width="1" height="24" fill="#000"/><rect x="820" y="363" width="5" height="3" fill="#000"/><rect x="830" y="364" width="1" height="13" fill="#000"/><rect x="828" y="365" width="5" height="3" fill="#000"/><rect x="838" y="349" width="1" height="32" fill="#000"/><rect x="836.5" y="357.5" width="4" height="12" fill="#fff" stroke="#000" stroke-width="1"/><rect x="846" y="343" width="1" height="17" fill="#000"/><rect x="844.5" y="346.5" width="4" height="11" fill="#fff" stroke="#000" stroke-width="1"/><rect x="854" y="320" width="1" height="31" fill="#000"/><rect x="852.5" y="331.5" width="4" height="10" fill="#fff" stroke="#000" stroke-width="1"/><rect x="862" y="317" width="1" height="19" fill="#000"/><rect x="860" y="331" width="5" height="3" fill="#000"/><rect x="870" y="310" width="1" height="37" fill="#000"/><rect x="868" y="329" width="5" height="14" fill="#000"/><rect x="878" y="331" width="1" height="12" fill="#000"/><rect x="876.5" y="334.5" width="4" height="8" fill="#fff" stroke="#000" stroke-width="1"/><rect x="886" y="348" width="1" height="24" fill="#000"/><rect x="884" y="360" width="5" height="7" fill="#000"/><rect x="894" y="368" width="1" height="24" fill="#000"/><rect x="892" y="368" width="5" height="19" fill="#000"/><rect x="902" y="342" width="1" height="33" fill="#000"/><rect x="900.5" y="344.5" width="4" height="26" fill="#fff" stroke="#000" stroke-width="1"/><rect x="910" y="337" width="1" height="14" fill="#000"/><rect x="908.5" y="341.5" width="4" height="2" fill="#fff" stroke="#000" stroke-width="1"/><rect x="918" y="361" width="1" height="27" fill="#000"/><rect x="916" y="361" width="5" height="25" fill="#000"/><rect x="926" y="371" width="1" height="26" fill="#000"/><rect x="924.5" y="374.5" width="4" height="11" fill="#fff" stroke="#000" stroke-width="1"/><rect x="934" y="364" width="1" height="28" fill="#000"/><rect x="932" y="371" width="5" height="6" fill="#000"/><rect x="942" y="375" width="1" height="41" fill="#000"/><rect x="940" y="376" width="5" height="29" fill="#000"/><rect x="950" y="407" width="1" height="29" fill="#000"/><rect x="948" y="415" width="5" height="7" fill="#000"/><rect x="958" y="419" width="1" height="28" fill="#000"/><rect x="956" y="420" width="5" height="22" fill="#000"/><rect x="966" y="440" width="1" height="50" fill="#000"/><rect x="964" y="445" width="5" height="45" fill="#000"/><rect x="974" y="476" width="1" height="17" fill="#000"/><rect x="972.5" y="477.5" width="4" height="11" fill="#fff" stroke="#000" stroke-width="1"/><rect x="982" y="461" width="1" height="39" fill="#000"/><rect x="980.5" y="468.5" width="4" height="9" fill="#fff" stroke="#000" stroke-width="1"/><rect x="990" y="452" width="1" height="24" fill="#000"/><rect x="988.5" y="457.5" width="4" height="11" fill="#fff" stroke="#000" stroke-width="1"/><rect x="998" y="471" width="1" height="82" fill="#000"/><rect x="996" y="476" width="5" height="68" fill="#000"/><rect x="1006" y="522" width="1" height="25" fill="#000"/><rect x="1004.5" y="531.5" width="4" height="14" fill="#fff" stroke="#000" stroke-width="1"/><rect x="1014" y="520" width="1" height="38" fill="#000"/><rect x="1012.5" y="537.5" width="4" height="4" fill="#fff" stroke="#000" stroke-width="1"/><rect x="1022" y="513" width="1" height="35" fill="#000"/><rect x="1020.5" y="521.5" width="4" height="16" fill="#fff" stroke="#000" stroke-width="1"/><rect x="1030" y="464" width="1" height="42" fill="#000"/><rect x="1028" y="495" width="5" height="9" fill="#000"/><rect x="1038" y="488" width="1" height="23" fill="#000"/><rect x="1036.5" y="489.5" width="4" height="13" fill="#fff" stroke="#000" stroke-width="1"/><rect x="1046" y="482" width="1" height="29" fill="#000"/><rect x="1044.5" y="493.5" width="4" height="10" fill="#fff" stroke="#000" stroke-width="1"/><rect x="1054" y="490" width="1" height="44" fill="#000"/><rect x="1052" y="494" width="5" height="28" fill="#000"/><rect x="1062" y="492" width="1" height="44" fill="#000"/><rect x="1060.5" y="513.5" width="4" height="22" fill="#fff" stroke="#000" stroke-width="1"/><rect x="1070" y="504" width="1" height="23" fill="#000"/><rect x="1068" y="513" width="5" height="9" fill="#000"/><rect x="1078" y="480" width="1" height="43" fill="#000"/><rect x="1076.5" y="491.5" width="4" height="27" fill="#fff" stroke="#000" stroke-width="1"/><rect x="1086" y="478" width="1" height="25" fill="#000"/><rect x="1084" y="490" width="5" height="6" fill="#000"/><rect x="1094" y="499" width="1" height="39" fill="#000"/><rect x="1092.5" y="507.5" width="4" height="5" fill="#fff" stroke="#000" stroke-width="1"/><rect x="1102" y="475" width="1" height="35" fill="#000"/><rect x="1100.5" y="489.5" width="4" height="15" fill="#fff" stroke="#000" stroke-width="1"/><rect x="1110" y="486" width="1" height="25" fill="#000"/><rect x="1108.5" y="499.5" width="4" height="2" fill="#fff" stroke="#000" stroke-width="1"/><rect x="1118" y="479" width="1" height="20" fill="#000"/><rect x="1116.5" y="488.5" width="4" height="10" fill="#fff" stroke="#000" stroke-width="1"/><rect x="1126" y="500" width="1" height="51" fill="#000"/><rect x="1124" y="506" width="5" height="34" fill="#000"/><rect x="1134" y="529" width="1" height="20" fill="#000"/><rect x="1132" y="537" width="5" height="3" fill="#000"/><rect x="1142" y="526" width="1" height="43" fill="#000"/><rect x="1140.5" y="527.5" width="4" height="21" fill="#fff" stroke="#000" stroke-width="1"/><rect x="1150" y="520" width="1" height="19" fill="#000"/><rect x="1148" y="529" width="5" height="3" fill="#000"/><rect x="1158" y="518" width="1" height="42" fill="#000"/><rect x="1156" y="518" width="5" height="25" fill="#000"/><rect x="1166" y="528" width="1" height="23" fill="#000"/><rect x="1164.5" y="540.5" width="4" height="3" fill="#fff" stroke="#000" stroke-width="1"/><rect x="1174" y="485" width="1" height="32" fill="#000"/><rect x="1172.5" y="490.5" width="4" height="26" fill="#fff" stroke="#000" stroke-width="1"/><rect x="1182" y="471" width="1" height="24" fill="#000"/><rect x="1180.5" y="479.5" width="4" height="13" fill="#fff" stroke="#000" stroke-width="1"/><rect x="1190" y="446" width="1" height="40" fill="#000"/><rect x="1188" y="455" width="5" height="27" fill="#000"/><rect x="1198" y="460" width="1" height="25" fill="#000"/><rect x="1196.5" y="461.5" width="4" height="21" fill="#fff" stroke="#000" stroke-width="1"/><rect x="1206" y="414" width="1" height="33" fill="#000"/><rect x="1204.5" y="414.5" width="4" height="32" fill="#fff" stroke="#000" stroke-width="1"/><rect x="1214" y="410" width="1" height="16" fill="#000"/><rect x="1212" y="414" width="5" height="7" fill="#000"/><rect x="1222" y="432" width="1" height="26" fill="#000"/><rect x="1220.5" y="443.5" width="4" height="11" fill="#fff" stroke="#000" stroke-width="1"/><rect x="1230" y="439" width="1" height="23" fill="#000"/><rect x="1228" y="443" width="5" height="11" fill="#000"/><rect x="1238" y="448" width="1" height="1" fill="#000"/><rect x="1236" y="448" width="5" height="1" fill="#000"/><rect x="1246" y="425" width="1" height="33" fill="#000"/><rect x="1244" y="431" width="5" height="3" fill="#000"/><rect x="1254" y="414" width="1" height="20" fill="#000"/><rect x="1252.5" y="416.5" width="4" height="16" fill="#fff" stroke="#000" stroke-width="1"/><rect x="1262" y="405" width="1" height="33" fill="#000"/><rect x="1260" y="408" width="5" height="19" fill="#000"/><rect x="1270" y="402" width="1" height="37" fill="#000"/><rect x="1268.5" y="406.5" width="4" height="21" fill="#fff" stroke="#000" stroke-width="1"/><rect x="1278" y="371" width="1" height="34" fill="#000"/><rect x="1276.5" y="381.5" width="4" height="18" fill="#fff" stroke="#000" stroke-width="1"/><rect x="1286" y="371" width="1" height="14" fill="#000"/><rect x="1284.5" y="375.5" width="4" height="7" fill="#fff" stroke="#000" stroke-width="1"/><rect x="1294" y="336" width="1" height="31" fill="#000"/><rect x="1292.5" y="343.5" width="4" height="13" fill="#fff" stroke="#000" stroke-width="1"/><rect x="1302" y="336" width="1" height="17" fill="#000"/><rect x="1300.5" y="340.5" width="4" height="3" fill="#fff" stroke="#000" stroke-width="1"/><rect x="1310" y="334" width="1" height="18" fill="#000"/><rect x="1308" y="343" width="5" height="6" fill="#000"/><rect x="1318" y="350" width="1" height="21" fill="#000"/><rect x="1316" y="350" width="5" height="7" fill="#000"/><rect x="1326" y="338" width="1" height="20" fill="#000"/><rect x="1324" y="341" width="5" height="5" fill="#000"/><rect x="1334" y="340" width="1" height="15" fill="#000"/><rect x="1332.5" y="343.5" width="4" height="2" fill="#fff" stroke="#000" stroke-width="1"/><rect x="1342" y="337" width="1" height="27" fill="#000"/><rect x="1340.5" y="341.5" width="4" height="12" fill="#fff" stroke="#000" stroke-width="1"/><rect x="1350" y="337" width="1" height="10" fill="#000"/><rect x="1348" y="338" width="5" height="3" fill="#000"/><rect x="1358" y="331" width="1" height="24" fill="#000"/><rect x="1356" y="332" width="5" height="19" fill="#000"/><rect x="1366" y="348" width="1" height="15" fill="#000"/><rect x="1364" y="349" width="5" height="3" fill="#000"/><rect x="1374" y="373" width="1" height="26" fill="#000"/><rect x="1372" y="376" width="5" height="16" fill="#000"/><rect x="1382" y="388" width="1" height="11" fill="#000"/><rect x="1380" y="390" width="5" height="3" fill="#000"/><rect x="1390" y="380" width="1" height="25" fill="#000"/><rect x="1388" y="393" width="5" height="4" fill="#000"/><rect x="1398" y="388" width="1" height="20" fill="#000"/><rect x="1396" y="396" width="5" height="12" fill="#000"/><rect x="1406" y="402" width="1" height="21" fill="#000"/><rect x="1404" y="402" width="5" height="7" fill="#000"/><rect x="1414" y="406" width="1" height="13" fill="#000"/><rect x="1412" y="410" width="5" height="7" fill="#000"/><rect x="1422" y="418" width="1" height="35" fill="#000"/><rect x="1420" y="420" width="5" height="20" fill="#000"/><rect x="1430" y="432" width="1" height="9" fill="#000"/><rect x="1428.5" y="436.5" width="4" height="4" fill="#fff" stroke="#000" stroke-width="1"/></g><rect x="1385" y="424" width="93" height="6" fill="#00e600"/><line x1="1357.5" y1="339.5" x2="1429.9" y2="443.6" stroke="#ff0000" stroke-width="3.6"/><polygon points="1435,451 1424.5,444.9 1433.0,439.0" fill="#ff0000"/><line x1="1355" y1="597.5" x2="1420.9" y2="638.8" stroke="#ff0000" stroke-width="3.5"/><polygon points="1428.5,643.6 1416.3,642.4 1422.1,633.1" fill="#ff0000"/><line x1="1349" y1="814.4" x2="1424.3" y2="858.9" stroke="#ff0000" stroke-width="3.5"/><polygon points="1432,863.5 1419.7,862.6 1425.3,853.2" fill="#ff0000"/><g clip-path="url(#cmacd)" shape-rendering="crispEdges"><rect x="6" y="650" width="1" height="16" fill="#c0c0c0"/><rect x="14" y="650" width="1" height="13" fill="#c0c0c0"/><rect x="22" y="650" width="1" height="9" fill="#c0c0c0"/><rect x="30" y="650" width="1" height="6" fill="#c0c0c0"/><rect x="46" y="647" width="1" height="4" fill="#c0c0c0"/><rect x="54" y="642" width="1" height="9" fill="#c0c0c0"/><rect x="62" y="638" width="1" height="13" fill="#c0c0c0"/><rect x="70" y="638" width="1" height="13" fill="#c0c0c0"/><rect x="78" y="639" width="1" height="12" fill="#c0c0c0"/><rect x="86" y="640" width="1" height="11" fill="#c0c0c0"/><rect x="94" y="644" width="1" height="7" fill="#c0c0c0"/><rect x="102" y="650" width="1" height="2" fill="#c0c0c0"/><rect x="110" y="650" width="1" height="7" fill="#c0c0c0"/><rect x="118" y="650" width="1" height="13" fill="#c0c0c0"/><rect x="126" y="650" width="1" height="17" fill="#c0c0c0"/><rect x="134" y="650" width="1" height="23" fill="#c0c0c0"/><rect x="142" y="650" width="1" height="26" fill="#c0c0c0"/><rect x="150" y="650" width="1" height="30" fill="#c0c0c0"/><rect x="158" y="650" width="1" height="32" fill="#c0c0c0"/><rect x="166" y="650" width="1" height="39" fill="#c0c0c0"/><rect x="174" y="650" width="1" height="47" fill="#c0c0c0"/><rect x="182" y="650" width="1" height="52" fill="#c0c0c0"/><rect x="190" y="650" width="1" height="54" fill="#c0c0c0"/><rect x="198" y="650" width="1" height="53" fill="#c0c0c0"/><rect x="206" y="650" width="1" height="51" fill="#c0c0c0"/><rect x="214" y="650" width="1" height="44" fill="#c0c0c0"/><rect x="222" y="650" width="1" height="39" fill="#c0c0c0"/><rect x="230" y="650" width="1" height="36" fill="#c0c0c0"/><rect x="238" y="650" width="1" height="33" fill="#c0c0c0"/><rect x="246" y="650" width="1" height="26" fill="#c0c0c0"/><rect x="254" y="650" width="1" height="22" fill="#c0c0c0"/><rect x="262" y="650" width="1" height="18" fill="#c0c0c0"/><rect x="270" y="650" width="1" height="15" fill="#c0c0c0"/><rect x="278" y="650" width="1" height="18" fill="#c0c0c0"/><rect x="286" y="650" width="1" height="22" fill="#c0c0c0"/><rect x="294" y="650" width="1" height="27" fill="#c0c0c0"/><rect x="302" y="650" width="1" height="31" fill="#c0c0c0"/><rect x="310" y="650" width="1" height="33" fill="#c0c0c0"/><rect x="318" y="650" width="1" height="35" fill="#c0c0c0"/><rect x="326" y="650" width="1" height="30" fill="#c0c0c0"/><rect x="334" y="650" width="1" height="27" fill="#c0c0c0"/><rect x="342" y="650" width="1" height="25" fill="#c0c0c0"/><rect x="350" y="650" width="1" height="27" fill="#c0c0c0"/><rect x="358" y="650" width="1" height="36" fill="#c0c0c0"/><rect x="366" y="650" width="1" height="48" fill="#c0c0c0"/><rect x="374" y="650" width="1" height="57" fill="#c0c0c0"/><rect x="382" y="650" width="1" height="75" fill="#c0c0c0"/><rect x="390" y="650" width="1" height="90" fill="#c0c0c0"/><rect x="398" y="650" width="1" height="97" fill="#c0c0c0"/><rect x="406" y="650" width="1" height="92" fill="#c0c0c0"/><rect x="414" y="650" width="1" height="84" fill="#c0c0c0"/><rect x="422" y="650" width="1" height="84" fill="#c0c0c0"/><rect x="430" y="650" width="1" height="81" fill="#c0c0c0"/><rect x="438" y="650" width="1" height="75" fill="#c0c0c0"/><rect x="446" y="650" width="1" height="70" fill="#c0c0c0"/><rect x="454" y="650" width="1" height="66" fill="#c0c0c0"/><rect x="462" y="650" width="1" height="62" fill="#c0c0c0"/><rect x="470" y="650" width="1" height="52" fill="#c0c0c0"/><rect x="478" y="650" width="1" height="45" fill="#c0c0c0"/><rect x="486" y="650" width="1" height="41" fill="#c0c0c0"/><rect x="494" y="650" width="1" height="39" fill="#c0c0c0"/><rect x="502" y="650" width="1" height="36" fill="#c0c0c0"/><rect x="510" y="650" width="1" height="35" fill="#c0c0c0"/><rect x="518" y="650" width="1" height="30" fill="#c0c0c0"/><rect x="526" y="650" width="1" height="28" fill="#c0c0c0"/><rect x="534" y="650" width="1" height="25" fill="#c0c0c0"/><rect x="542" y="650" width="1" height="19" fill="#c0c0c0"/><rect x="550" y="650" width="1" height="16" fill="#c0c0c0"/><rect x="558" y="650" width="1" height="12" fill="#c0c0c0"/><rect x="566" y="650" width="1" height="8" fill="#c0c0c0"/><rect x="574" y="650" width="1" height="8" fill="#c0c0c0"/><rect x="582" y="650" width="1" height="9" fill="#c0c0c0"/><rect x="590" y="650" width="1" height="9" fill="#c0c0c0"/><rect x="598" y="650" width="1" height="10" fill="#c0c0c0"/><rect x="606" y="650" width="1" height="12" fill="#c0c0c0"/><rect x="614" y="650" width="1" height="15" fill="#c0c0c0"/><rect x="622" y="650" width="1" height="21" fill="#c0c0c0"/><rect x="630" y="650" width="1" height="22" fill="#c0c0c0"/><rect x="638" y="650" width="1" height="25" fill="#c0c0c0"/><rect x="646" y="650" width="1" height="31" fill="#c0c0c0"/><rect x="654" y="650" width="1" height="37" fill="#c0c0c0"/><rect x="662" y="650" width="1" height="48" fill="#c0c0c0"/><rect x="670" y="650" width="1" height="55" fill="#c0c0c0"/><rect x="678" y="650" width="1" height="53" fill="#c0c0c0"/><rect x="686" y="650" width="1" height="54" fill="#c0c0c0"/><rect x="694" y="650" width="1" height="50" fill="#c0c0c0"/><rect x="702" y="650" width="1" height="44" fill="#c0c0c0"/><rect x="710" y="650" width="1" height="39" fill="#c0c0c0"/><rect x="718" y="650" width="1" height="34" fill="#c0c0c0"/><rect x="726" y="650" width="1" height="34" fill="#c0c0c0"/><rect x="734" y="650" width="1" height="32" fill="#c0c0c0"/><rect x="742" y="650" width="1" height="30" fill="#c0c0c0"/><rect x="750" y="650" width="1" height="31" fill="#c0c0c0"/><rect x="758" y="650" width="1" height="30" fill="#c0c0c0"/><rect x="766" y="650" width="1" height="27" fill="#c0c0c0"/><rect x="774" y="650" width="1" height="30" fill="#c0c0c0"/><rect x="782" y="650" width="1" height="23" fill="#c0c0c0"/><rect x="790" y="650" width="1" height="16" fill="#c0c0c0"/><rect x="798" y="650" width="1" height="10" fill="#c0c0c0"/><rect x="806" y="650" width="1" height="4" fill="#c0c0c0"/><rect x="814" y="650" width="1" height="2" fill="#c0c0c0"/><rect x="822" y="648" width="1" height="3" fill="#c0c0c0"/><rect x="830" y="646" width="1" height="5" fill="#c0c0c0"/><rect x="838" y="644" width="1" height="7" fill="#c0c0c0"/><rect x="846" y="641" width="1" height="10" fill="#c0c0c0"/><rect x="854" y="637" width="1" height="14" fill="#c0c0c0"/><rect x="862" y="634" width="1" height="17" fill="#c0c0c0"/><rect x="870" y="633" width="1" height="18" fill="#c0c0c0"/><rect x="878" y="632" width="1" height="19" fill="#c0c0c0"/><rect x="886" y="635" width="1" height="16" fill="#c0c0c0"/><rect x="894" y="640" width="1" height="11" fill="#c0c0c0"/><rect x="902" y="639" width="1" height="12" fill="#c0c0c0"/><rect x="910" y="638" width="1" height="13" fill="#c0c0c0"/><rect x="918" y="642" width="1" height="9" fill="#c0c0c0"/><rect x="926" y="645" width="1" height="6" fill="#c0c0c0"/><rect x="934" y="647" width="1" height="4" fill="#c0c0c0"/><rect x="942" y="650" width="1" height="3" fill="#c0c0c0"/><rect x="950" y="650" width="1" height="9" fill="#c0c0c0"/><rect x="958" y="650" width="1" height="16" fill="#c0c0c0"/><rect x="966" y="650" width="1" height="28" fill="#c0c0c0"/><rect x="974" y="650" width="1" height="36" fill="#c0c0c0"/><rect x="982" y="650" width="1" height="40" fill="#c0c0c0"/><rect x="990" y="650" width="1" height="41" fill="#c0c0c0"/><rect x="998" y="650" width="1" height="53" fill="#c0c0c0"/><rect x="1006" y="650" width="1" height="60" fill="#c0c0c0"/><rect x="1014" y="650" width="1" height="65" fill="#c0c0c0"/><rect x="1022" y="650" width="1" height="67" fill="#c0c0c0"/><rect x="1030" y="650" width="1" height="65" fill="#c0c0c0"/><rect x="1038" y="650" width="1" height="61" fill="#c0c0c0"/><rect x="1046" y="650" width="1" height="59" fill="#c0c0c0"/><rect x="1054" y="650" width="1" height="59" fill="#c0c0c0"/><rect x="1062" y="650" width="1" height="57" fill="#c0c0c0"/><rect x="1070" y="650" width="1" height="57" fill="#c0c0c0"/><rect x="1078" y="650" width="1" height="52" fill="#c0c0c0"/><rect x="1086" y="650" width="1" height="48" fill="#c0c0c0"/><rect x="1094" y="650" width="1" height="46" fill="#c0c0c0"/><rect x="1102" y="650" width="1" height="41" fill="#c0c0c0"/><rect x="1110" y="650" width="1" height="39" fill="#c0c0c0"/><rect x="1118" y="650" width="1" height="35" fill="#c0c0c0"/><rect x="1126" y="650" width="1" height="38" fill="#c0c0c0"/><rect x="1134" y="650" width="1" height="40" fill="#c0c0c0"/><rect x="1142" y="650" width="1" height="39" fill="#c0c0c0"/><rect x="1150" y="650" width="1" height="39" fill="#c0c0c0"/><rect x="1158" y="650" width="1" height="39" fill="#c0c0c0"/><rect x="1166" y="650" width="1" height="39" fill="#c0c0c0"/><rect x="1174" y="650" width="1" height="33" fill="#c0c0c0"/><rect x="1182" y="650" width="1" height="26" fill="#c0c0c0"/><rect x="1190" y="650" width="1" height="19" fill="#c0c0c0"/><rect x="1198" y="650" width="1" height="13" fill="#c0c0c0"/><rect x="1214" y="643" width="1" height="8" fill="#c0c0c0"/><rect x="1222" y="639" width="1" height="12" fill="#c0c0c0"/><rect x="1230" y="638" width="1" height="13" fill="#c0c0c0"/><rect x="1238" y="636" width="1" height="15" fill="#c0c0c0"/><rect x="1246" y="633" width="1" height="18" fill="#c0c0c0"/><rect x="1254" y="629" width="1" height="22" fill="#c0c0c0"/><rect x="1262" y="627" width="1" height="24" fill="#c0c0c0"/><rect x="1270" y="623" width="1" height="28" fill="#c0c0c0"/><rect x="1278" y="618" width="1" height="33" fill="#c0c0c0"/><rect x="1286" y="613" width="1" height="38" fill="#c0c0c0"/><rect x="1294" y="605" width="1" height="46" fill="#c0c0c0"/><rect x="1302" y="599" width="1" height="52" fill="#c0c0c0"/><rect x="1310" y="596" width="1" height="55" fill="#c0c0c0"/><rect x="1318" y="596" width="1" height="55" fill="#c0c0c0"/><rect x="1326" y="595" width="1" height="56" fill="#c0c0c0"/><rect x="1334" y="594" width="1" height="57" fill="#c0c0c0"/><rect x="1342" y="594" width="1" height="57" fill="#c0c0c0"/><rect x="1350" y="596" width="1" height="55" fill="#c0c0c0"/><rect x="1358" y="598" width="1" height="53" fill="#c0c0c0"/><rect x="1366" y="599" width="1" height="52" fill="#c0c0c0"/><rect x="1374" y="607" width="1" height="44" fill="#c0c0c0"/><rect x="1382" y="614" width="1" height="37" fill="#c0c0c0"/><rect x="1390" y="620" width="1" height="31" fill="#c0c0c0"/><rect x="1398" y="626" width="1" height="25" fill="#c0c0c0"/><rect x="1406" y="631" width="1" height="20" fill="#c0c0c0"/><rect x="1414" y="636" width="1" height="15" fill="#c0c0c0"/><rect x="1422" y="642" width="1" height="9" fill="#c0c0c0"/><polyline fill="none" stroke="#ff0000" stroke-width="1" stroke-dasharray="3 3" points="0.0,661.6 16.2,662.5 35.9,659.4 53.9,655.8 70.0,650.1 78.0,647.3 86.0,644.8 94.0,643.1 102.0,642.3 110.0,642.6 118.0,644.0 126.0,647.3 134.0,651.8 142.0,655.8 150.0,660.1 158.0,665.7 166.0,671.6 174.0,676.3 182.0,681.1 190.0,685.5 198.0,689.3 206.0,692.3 214.0,694.7 222.0,695.8 230.0,696.2 238.0,695.5 246.0,693.0 254.0,689.5 262.0,685.3 270.0,681.0 278.0,677.1 286.0,674.1 294.0,673.3 302.0,673.3 310.0,673.3 318.0,674.2 326.0,674.8 334.0,675.5 342.0,676.6 350.0,677.6 358.0,679.1 366.0,681.7 374.0,684.7 382.0,689.2 390.0,695.8 398.0,703.7 406.0,710.8 414.0,717.3 422.0,723.5 430.0,728.2 438.0,731.3 446.0,733.1 454.0,732.4 462.0,729.3 470.0,724.6 478.0,719.8 486.0,714.4 494.0,708.7 502.0,703.9 510.0,699.8 518.0,695.9 526.0,691.2 534.0,686.5 542.0,682.6 550.0,679.3 558.0,676.2 566.0,672.7 574.0,669.6 582.0,666.7 590.0,664.4 598.0,662.3 606.0,660.8 614.0,660.2 622.0,660.6 630.0,661.7 638.0,663.5 646.0,666.0 654.0,669.1 662.0,673.7 670.0,678.8 678.0,683.2 686.0,687.8 694.0,691.4 702.0,693.7 710.0,695.2 718.0,695.4 726.0,695.1 734.0,693.4 742.0,690.4 750.0,687.7 758.0,685.1 766.0,682.5 774.0,680.4 782.0,678.1 790.0,676.0 798.0,673.3 806.0,670.2 814.0,667.0 822.0,663.4 830.0,659.8 838.0,656.4 846.0,652.6 854.0,648.9 862.0,645.3 870.0,642.3 878.0,640.4 886.0,638.5 894.0,637.5 902.0,636.5 910.0,635.6 918.0,635.5 926.0,636.2 934.0,637.7 942.0,640.1 950.0,643.2 958.0,646.7 966.0,651.3 974.0,656.6 982.0,662.3 990.0,667.5 998.0,674.0 1006.0,681.6 1014.0,688.7 1022.0,694.9 1030.0,700.3 1038.0,703.8 1046.0,706.3 1054.0,708.5 1062.0,710.3 1070.0,710.6 1078.0,709.1 1086.0,706.9 1094.0,704.7 1102.0,702.3 1110.0,700.4 1118.0,697.9 1126.0,695.5 1134.0,693.2 1142.0,690.6 1150.0,689.2 1158.0,688.7 1166.0,688.3 1174.0,687.5 1182.0,685.7 1190.0,683.4 1198.0,680.3 1206.0,676.5 1214.0,671.9 1222.0,666.0 1230.0,659.9 1238.0,654.1 1246.0,648.7 1254.0,643.6 1262.0,639.0 1270.0,634.5 1278.0,630.7 1286.0,627.2 1294.0,623.3 1302.0,618.9 1310.0,614.7 1318.0,610.9 1326.0,606.8 1334.0,602.8 1342.0,600.0 1350.0,598.0 1358.0,596.4 1366.0,595.7 1374.0,596.5 1382.0,598.5 1390.0,601.0 1398.0,604.3 1406.0,608.3 1414.0,613.0 1422.0,618.2 1430.0,623.5"/></g><g clip-path="url(#crsi)" shape-rendering="crispEdges"><line x1="0" y1="792.5" x2="1657" y2="792.5" stroke="#c0c0c0" stroke-width="1" stroke-dasharray="3 3"/><line x1="0" y1="843.5" x2="1657" y2="843.5" stroke="#c0c0c0" stroke-width="1" stroke-dasharray="3 3"/><line x1="0" y1="904.5" x2="1657" y2="904.5" stroke="#c0c0c0" stroke-width="1" stroke-dasharray="3 3"/><polyline fill="none" stroke="#1e90ff" stroke-width="1" points="-2.0,857.0 6.0,864.0 14.0,840.5 22.0,836.8 30.0,834.1 38.0,833.2 46.0,823.1 54.0,821.2 62.0,821.2 70.0,834.1 78.0,838.3 86.0,838.3 94.0,847.9 102.0,866.2 110.0,868.4 118.0,869.5 126.0,870.8 134.0,877.3 142.0,873.2 150.0,876.3 158.0,872.1 166.0,887.4 174.0,892.3 182.0,882.4 190.0,882.4 198.0,869.5 206.0,866.2 214.0,845.1 222.0,849.7 230.0,854.3 238.0,851.9 246.0,838.7 254.0,843.3 262.0,840.1 270.0,843.3 278.0,861.1 286.0,862.6 294.0,870.3 302.0,867.2 310.0,870.3 318.0,864.8 326.0,845.1 334.0,845.1 342.0,854.8 350.0,858.9 358.0,876.3 366.0,882.8 374.0,885.0 382.0,896.0 390.0,896.0 398.0,884.6 406.0,862.6 414.0,858.0 422.0,866.2 430.0,861.6 438.0,855.2 446.0,855.2 454.0,859.3 462.0,855.2 470.0,843.3 478.0,846.9 486.0,849.3 494.0,853.4 502.0,851.9 510.0,853.4 518.0,845.1 526.0,849.3 534.0,847.9 542.0,840.5 550.0,839.0 558.0,839.0 566.0,839.6 574.0,846.0 582.0,851.2 590.0,847.5 598.0,853.0 606.0,856.1 614.0,859.8 622.0,869.0 630.0,860.4 638.0,863.5 646.0,874.0 654.0,877.3 662.0,886.8 670.0,882.8 678.0,861.6 686.0,865.9 694.0,851.9 702.0,848.2 710.0,848.2 718.0,846.0 726.0,856.1 734.0,853.4 742.0,852.5 750.0,858.0 758.0,854.3 766.0,851.5 774.0,861.1 782.0,839.0 790.0,834.6 798.0,834.6 806.0,832.2 814.0,831.3 822.0,837.2 830.0,838.3 838.0,834.1 846.0,830.4 854.0,825.8 862.0,825.4 870.0,831.3 878.0,828.6 886.0,843.8 894.0,851.9 902.0,835.4 910.0,834.6 918.0,851.2 926.0,846.4 934.0,847.5 942.0,857.4 950.0,862.2 958.0,867.7 966.0,878.2 974.0,873.2 982.0,869.0 990.0,864.4 998.0,882.4 1006.0,877.6 1014.0,878.7 1022.0,872.1 1030.0,864.4 1038.0,859.8 1046.0,860.4 1054.0,867.2 1062.0,864.4 1070.0,866.2 1078.0,853.4 1086.0,855.2 1094.0,858.5 1102.0,851.5 1110.0,854.3 1118.0,850.6 1126.0,865.3 1134.0,865.3 1142.0,860.7 1150.0,861.6 1158.0,864.4 1166.0,863.5 1174.0,840.9 1182.0,837.2 1190.0,839.6 1198.0,831.0 1206.0,818.5 1214.0,820.3 1222.0,830.4 1230.0,835.0 1238.0,833.2 1246.0,827.3 1254.0,823.6 1262.0,828.0 1270.0,821.8 1278.0,815.7 1286.0,813.9 1294.0,806.0 1302.0,805.6 1310.0,810.2 1318.0,814.4 1326.0,812.6 1334.0,811.1 1342.0,810.2 1350.0,810.2 1358.0,817.5 1366.0,817.5 1374.0,842.3 1382.0,842.3 1390.0,845.1 1398.0,850.6 1406.0,851.5 1414.0,855.2 1422.0,866.2 1430.0,863.5"/></g><g shape-rendering="crispEdges" fill="#000"><rect x="0" y="29" width="1658" height="1"/><rect x="1657" y="29" width="1" height="902"/><rect x="0" y="582" width="1658" height="1"/><rect x="0" y="584" width="1658" height="1"/><rect x="0" y="754" width="1658" height="1"/><rect x="0" y="756" width="1658" height="1"/><rect x="0" y="930" width="1658" height="1"/></g><polygon points="1436,30 1445,30 1440.5,35" fill="#c0c0c0"/><g shape-rendering="crispEdges" fill="#000"><rect x="1658" y="51" width="3" height="1"/><rect x="1658" y="84" width="3" height="1"/><rect x="1658" y="117" width="3" height="1"/><rect x="1658" y="150" width="3" height="1"/><rect x="1658" y="183" width="3" height="1"/><rect x="1658" y="216" width="3" height="1"/><rect x="1658" y="249" width="3" height="1"/><rect x="1658" y="282" width="3" height="1"/><rect x="1658" y="315" width="3" height="1"/><rect x="1658" y="348" width="3" height="1"/><rect x="1658" y="381" width="3" height="1"/><rect x="1658" y="414" width="3" height="1"/><rect x="1658" y="447" width="3" height="1"/><rect x="1658" y="480" width="3" height="1"/><rect x="1658" y="513" width="3" height="1"/><rect x="1658" y="546" width="3" height="1"/><rect x="1658" y="579" width="3" height="1"/></g><g font-family="Liberation Sans, sans-serif" font-size="9.6" fill="#000" stroke="#000" stroke-width="0.25"><text x="1663" y="55" textLength="33" lengthAdjust="spacingAndGlyphs">29296.0</text><text x="1663" y="88" textLength="33" lengthAdjust="spacingAndGlyphs">28939.0</text><text x="1663" y="121" textLength="33" lengthAdjust="spacingAndGlyphs">28571.5</text><text x="1663" y="154" textLength="33" lengthAdjust="spacingAndGlyphs">28214.5</text><text x="1663" y="187" textLength="33" lengthAdjust="spacingAndGlyphs">27857.5</text><text x="1663" y="220" textLength="33" lengthAdjust="spacingAndGlyphs">27490.0</text><text x="1663" y="253" textLength="33" lengthAdjust="spacingAndGlyphs">27133.0</text><text x="1663" y="286" textLength="33" lengthAdjust="spacingAndGlyphs">26776.0</text><text x="1663" y="319" textLength="33" lengthAdjust="spacingAndGlyphs">26408.5</text><text x="1663" y="352" textLength="33" lengthAdjust="spacingAndGlyphs">26051.5</text><text x="1663" y="385" textLength="33" lengthAdjust="spacingAndGlyphs">25694.5</text><text x="1663" y="418" textLength="33" lengthAdjust="spacingAndGlyphs">25327.0</text><text x="1663" y="451" textLength="33" lengthAdjust="spacingAndGlyphs">24970.0</text><text x="1663" y="484" textLength="33" lengthAdjust="spacingAndGlyphs">24613.0</text><text x="1663" y="517" textLength="33" lengthAdjust="spacingAndGlyphs">24245.5</text><text x="1663" y="550" textLength="33" lengthAdjust="spacingAndGlyphs">23888.5</text><text x="1663" y="583" textLength="33" lengthAdjust="spacingAndGlyphs">23531.5</text></g><rect x="1659" y="385" width="41" height="11" fill="#ff0000"/><text x="1662" y="394" font-family="Liberation Sans, sans-serif" font-size="10" fill="#fff" textLength="34" lengthAdjust="spacingAndGlyphs">25582.7</text><rect x="1659" y="401" width="41" height="11" fill="#ff0000"/><text x="1662" y="410" font-family="Liberation Sans, sans-serif" font-size="10" fill="#fff" textLength="34" lengthAdjust="spacingAndGlyphs">25408.2</text><rect x="1659" y="433" width="41" height="8" fill="#000000"/><text x="1662" y="439" font-family="Liberation Sans, sans-serif" font-size="10" fill="#fff" textLength="34" lengthAdjust="spacingAndGlyphs">25097.0</text><rect x="1659" y="422" width="41" height="11" fill="#32cd32"/><text x="1662" y="431" font-family="Liberation Sans, sans-serif" font-size="10" fill="#fff" textLength="34" lengthAdjust="spacingAndGlyphs">25179.2</text><rect x="1659" y="450" width="41" height="11" fill="#0000ff"/><text x="1662" y="459" font-family="Liberation Sans, sans-serif" font-size="10" fill="#fff" textLength="34" lengthAdjust="spacingAndGlyphs">24873.9</text><rect x="1659" y="470" width="41" height="11" fill="#0000ff"/><text x="1662" y="479" font-family="Liberation Sans, sans-serif" font-size="10" fill="#fff" textLength="34" lengthAdjust="spacingAndGlyphs">24655.8</text><g shape-rendering="crispEdges" fill="#000"><rect x="1658" y="585" width="3" height="1"/><rect x="1658" y="650" width="3" height="1"/><rect x="1658" y="754" width="3" height="1"/><rect x="1658" y="757" width="3" height="1"/><rect x="1658" y="792" width="3" height="1"/><rect x="1658" y="843" width="3" height="1"/><rect x="1658" y="904" width="3" height="1"/><rect x="1658" y="930" width="3" height="1"/></g><g font-family="Liberation Sans, sans-serif" font-size="9.6" fill="#000" stroke="#000" stroke-width="0.25"><text x="1661" y="595" textLength="27" lengthAdjust="spacingAndGlyphs">443.46</text><text x="1661" y="654" textLength="19" lengthAdjust="spacingAndGlyphs">0.00</text><text x="1661" y="751" textLength="31" lengthAdjust="spacingAndGlyphs">-706.76</text><text x="1661" y="767" textLength="15" lengthAdjust="spacingAndGlyphs">100</text><text x="1661" y="796">80</text><text x="1661" y="847">50</text><text x="1661" y="908">15</text><text x="1661" y="927">0</text></g><g font-family="Liberation Sans, sans-serif" font-size="9.6" fill="#000" stroke="#000" stroke-width="0.25"><text x="2" y="597" textLength="118" lengthAdjust="spacingAndGlyphs">MACD(12,26,9) 3.62 174.20</text><text x="2" y="769" textLength="68" lengthAdjust="spacingAndGlyphs">RSI(14) 39.0927</text><text x="13.5" y="41" textLength="40.3" lengthAdjust="spacingAndGlyphs">HK50-,H4</text><text x="60.5" y="41" textLength="140" lengthAdjust="spacingAndGlyphs">25037.5 25137.0 25037.5 25097.0</text></g><polygon points="1,40.5 8,40.5 4.5,36" fill="#000"/><g shape-rendering="crispEdges" fill="#000"><rect x="62" y="931" width="1" height="3"/><rect x="126" y="931" width="1" height="3"/><rect x="190" y="931" width="1" height="3"/><rect x="254" y="931" width="1" height="3"/><rect x="318" y="931" width="1" height="3"/><rect x="382" y="931" width="1" height="3"/><rect x="446" y="931" width="1" height="3"/><rect x="510" y="931" width="1" height="3"/><rect x="574" y="931" width="1" height="3"/><rect x="638" y="931" width="1" height="3"/><rect x="702" y="931" width="1" height="3"/><rect x="766" y="931" width="1" height="3"/><rect x="830" y="931" width="1" height="3"/><rect x="894" y="931" width="1" height="3"/><rect x="958" y="931" width="1" height="3"/><rect x="1022" y="931" width="1" height="3"/><rect x="1086" y="931" width="1" height="3"/><rect x="1150" y="931" width="1" height="3"/><rect x="1214" y="931" width="1" height="3"/><rect x="1278" y="931" width="1" height="3"/><rect x="1342" y="931" width="1" height="3"/><rect x="1406" y="931" width="1" height="3"/></g><g font-family="Liberation Sans, sans-serif" font-size="9.6" fill="#000" stroke="#000" stroke-width="0.25"><text x="-2" y="943" textLength="51.2" lengthAdjust="spacingAndGlyphs">22 Jun 2021</text><text x="61" y="943" textLength="53.8" lengthAdjust="spacingAndGlyphs">28 Jun 05:00</text><text x="125" y="943" textLength="45.5" lengthAdjust="spacingAndGlyphs">5 Jul 05:00</text><text x="189" y="943" textLength="45.5" lengthAdjust="spacingAndGlyphs">9 Jul 05:00</text><text x="253" y="943" textLength="50.7" lengthAdjust="spacingAndGlyphs">15 Jul 05:00</text><text x="317" y="943" textLength="50.7" lengthAdjust="spacingAndGlyphs">21 Jul 05:00</text><text x="381" y="943" textLength="50.7" lengthAdjust="spacingAndGlyphs">27 Jul 05:00</text><text x="445" y="943" textLength="49.6" lengthAdjust="spacingAndGlyphs">2 Aug 05:00</text><text x="509" y="943" textLength="49.6" lengthAdjust="spacingAndGlyphs">6 Aug 05:00</text><text x="573" y="943" textLength="54.8" lengthAdjust="spacingAndGlyphs">12 Aug 05:00</text><text x="637" y="943" textLength="54.8" lengthAdjust="spacingAndGlyphs">18 Aug 05:00</text><text x="701" y="943" textLength="54.8" lengthAdjust="spacingAndGlyphs">24 Aug 05:00</text><text x="765" y="943" textLength="54.8" lengthAdjust="spacingAndGlyphs">30 Aug 05:00</text><text x="829" y="943" textLength="50.2" lengthAdjust="spacingAndGlyphs">3 Sep 05:00</text><text x="893" y="943" textLength="50.2" lengthAdjust="spacingAndGlyphs">9 Sep 05:00</text><text x="957" y="943" textLength="55.3" lengthAdjust="spacingAndGlyphs">15 Sep 05:00</text><text x="1021" y="943" textLength="55.3" lengthAdjust="spacingAndGlyphs">21 Sep 05:00</text><text x="1085" y="943" textLength="55.3" lengthAdjust="spacingAndGlyphs">28 Sep 05:00</text><text x="1149" y="943" textLength="48.1" lengthAdjust="spacingAndGlyphs">5 Oct 05:00</text><text x="1213" y="943" textLength="52.6" lengthAdjust="spacingAndGlyphs">11 Oct 05:00</text><text x="1277" y="943" textLength="53.2" lengthAdjust="spacingAndGlyphs">19 Oct 01:15</text><text x="1341" y="943" textLength="53.2" lengthAdjust="spacingAndGlyphs">25 Oct 01:15</text><text x="1405" y="943" textLength="53.2" lengthAdjust="spacingAndGlyphs">29 Oct 01:15</text></g><defs><linearGradient id="gTop" x1="0" y1="0" x2="0" y2="1"><stop offset="0" stop-color="#fb5656"/><stop offset="1" stop-color="#e23434"/></linearGradient><linearGradient id="gPrice" x1="0" y1="0" x2="0" y2="1"><stop offset="0" stop-color="#dc3030"/><stop offset="1" stop-color="#b40a0a"/></linearGradient><linearGradient id="gBtn" x1="0" y1="0" x2="0" y2="1"><stop offset="0" stop-color="#f2f2f2"/><stop offset="0.45" stop-color="#e6e6e6"/><stop offset="0.5" stop-color="#d8d8d8"/><stop offset="1" stop-color="#cfcfcf"/></linearGradient></defs><path d="M1,49 H53 V72 H110 V106 H1 Z" fill="#b80000"/><path d="M2,50 H52 V73 H109 V105 H2 Z" fill="url(#gPrice)"/><rect x="2" y="50" width="50" height="22" fill="url(#gTop)"/><rect x="5" y="72" width="44" height="1" fill="#8a0000"/><rect x="5" y="73" width="44" height="1" fill="#f07070"/><path d="M168,49 H220 V106 H112 V72 H168 Z" fill="#b80000"/><path d="M169,50 H219 V105 H113 V73 H169 Z" fill="url(#gPrice)"/><rect x="169" y="50" width="50" height="22" fill="url(#gTop)"/><rect x="172" y="72" width="44" height="1" fill="#8a0000"/><rect x="172" y="73" width="44" height="1" fill="#f07070"/><rect x="53" y="49" width="115" height="23" fill="#ffffff"/><rect x="54.5" y="49.5" width="111" height="21" fill="#fff" stroke="#a9adb3" stroke-width="1"/><rect x="56" y="51" width="19" height="19" fill="url(#gBtn)"/><rect x="75" y="50" width="1" height="20" fill="#a9adb3"/><rect x="145" y="51" width="20" height="19" fill="url(#gBtn)"/><rect x="144" y="50" width="1" height="20" fill="#a9adb3"/><polygon points="62.5,58 68.5,58 65.5,61" fill="#4a6bd0"/><polygon points="151.5,61 157.5,61 154.5,58" fill="#4a6bd0"/><text x="13" y="65" font-family="Liberation Sans, sans-serif" font-size="12" fill="#fff" textLength="26" lengthAdjust="spacingAndGlyphs">SELL</text><text x="182" y="65" font-family="Liberation Sans, sans-serif" font-size="12" fill="#fff" textLength="23" lengthAdjust="spacingAndGlyphs">BUY</text><text x="118" y="64" font-family="Liberation Sans, sans-serif" font-size="12" fill="#000" textLength="23" lengthAdjust="spacingAndGlyphs">1.00</text><text x="17" y="101" font-family="Liberation Sans, sans-serif" font-size="12" font-weight="bold" fill="#fff" textLength="34" lengthAdjust="spacingAndGlyphs">25095</text><rect x="57" y="97" width="3.5" height="3.5" rx="1" fill="#fff"/><text x="63" y="101" font-family="Liberation Sans, sans-serif" font-size="33" fill="#fff" textLength="15" lengthAdjust="spacingAndGlyphs">5</text><text x="127" y="101" font-family="Liberation Sans, sans-serif" font-size="12" font-weight="bold" fill="#fff" textLength="35" lengthAdjust="spacingAndGlyphs">25114</text><rect x="168" y="97" width="3.5" height="3.5" rx="1" fill="#fff"/><text x="175" y="101" font-family="Liberation Sans, sans-serif" font-size="33" fill="#fff" textLength="15" lengthAdjust="spacingAndGlyphs">5</text></svg>
</body></html>
